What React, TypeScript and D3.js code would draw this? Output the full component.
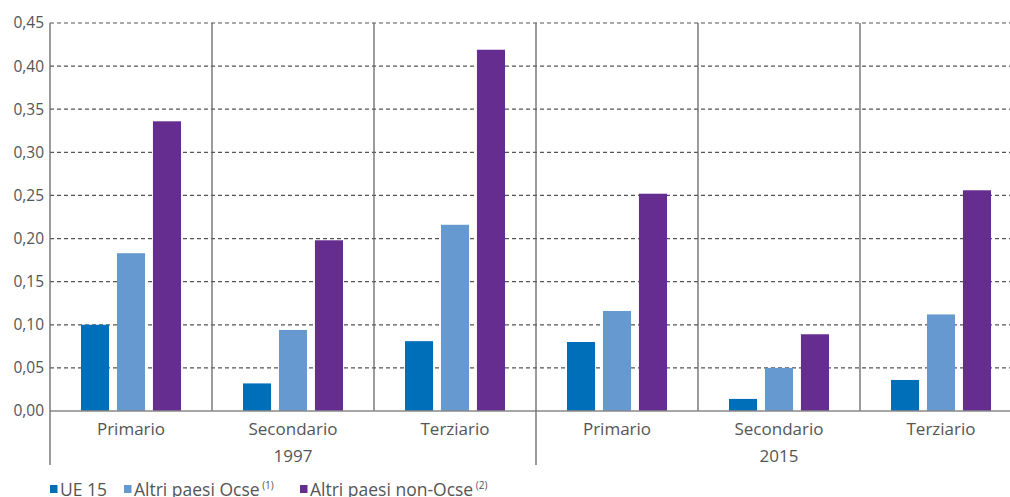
import React from 'react';
import * as d3 from 'd3';

const years = ['1997', '2015'];
const sectors = ['Primario', 'Secondario', 'Terziario'];
const seriesNames = ['UE 15', 'Altri paesi Ocse', 'Altri paesi non-Ocse'];
const seriesNotes = ['', '(1)', '(2)'];
const seriesColors = ['#006fb9', '#6699cf', '#652d90'];

// values per category (year x sector), in the order of seriesNames
const ue15 = [0.100, 0.032, 0.081, 0.080, 0.014, 0.036];
const altriOcse = [0.183, 0.094, 0.216, 0.116, 0.050, 0.112];
const altriNonOcse = [0.336, 0.198, 0.419, 0.252, 0.089, 0.256];

const yTicks = [0, 0.05, 0.1, 0.15, 0.2, 0.25, 0.3, 0.35, 0.4, 0.45];

const W = 1010;
const H = 497;
const left = 50;
const right = 1022; // plot runs past the window edge
const top = 23;
const bottom = 411;
const font = "'Open Sans', 'Noto Sans', sans-serif";
const textColor = '#555';

const App: React.FC = () => {
  const categories = years.flatMap(y => sectors.map(s => `${y}|${s}`));
  const series = [ue15, altriOcse, altriNonOcse];

  const x = d3.scaleBand<string>().domain(categories).range([left, right]).padding(0);
  const step = x.bandwidth();
  const inner = d3.scaleBand<number>()
    .domain([0, 1, 2])
    .range([step / 2 - 50, step / 2 + 50])
    .paddingInner(0.22)
    .paddingOuter(0);
  const y = d3.scaleLinear().domain([0, 0.45]).range([bottom, top]);

  const fmt = d3.formatLocale({ decimal: ',', thousands: '.', grouping: [3], currency: ['€', ''] }).format('.2f');

  const yearX = (yr: string) => x(`${yr}|${sectors[0]}`) as number;

  return (
    <svg width={W} height={H} style={{ position: 'fixed', left: 0, top: 0, background: '#fff' }}>
      {/* grid lines */}
      {yTicks.filter(t => t > 0).map(t => (
        <line key={t} x1={left} x2={right} y1={y(t)} y2={y(t)}
          stroke="#555" strokeWidth={1.2} strokeDasharray="4,3" />
      ))}
      {/* tick labels */}
      {yTicks.map(t => (
        <text key={'l' + t} x={44} y={y(t)} dy="0.35em" textAnchor="end"
          fontFamily={font} fontSize={15.5} fill={textColor}>{fmt(t)}</text>
      ))}
      {/* separators between sectors */}
      {categories.map((c, i) => i % 3 === 0 ? null : (
        <line key={'s' + c} x1={x(c)} x2={x(c)} y1={top} y2={bottom} stroke="#666" strokeWidth={1.3} />
      ))}
      {/* bars */}
      {categories.map((c, ci) => (
        <g key={'g' + c} transform={`translate(${x(c)},0)`}>
          {series.map((vals, si) => (
            <rect key={si} x={inner(si)} width={inner.bandwidth()}
              y={y(vals[ci])} height={y(0) - y(vals[ci])}
              fill={seriesColors[si]} />
          ))}
        </g>
      ))}
      {/* baseline */}
      <line x1={left} x2={right} y1={bottom} y2={bottom} stroke="#888" strokeWidth={1.5} />
      {/* year separators */}
      {years.map(yr => (
        <line key={'ys' + yr} x1={yearX(yr)} x2={yearX(yr)} y1={top} y2={465} stroke="#666" strokeWidth={1.3} />
      ))}
      {/* sector labels */}
      {categories.map(c => (
        <text key={'t' + c} x={(x(c) as number) + step / 2} y={429} dy="0.35em" textAnchor="middle"
          fontFamily={font} fontSize={17} fill={textColor}>{c.split('|')[1]}</text>
      ))}
      {/* year labels */}
      {years.map(yr => (
        <text key={'y' + yr} x={yearX(yr) + step * 1.5} y={456} dy="0.35em" textAnchor="middle"
          fontFamily={font} fontSize={17} fill={textColor}>{yr}</text>
      ))}
      {/* legend */}
      {seriesNames.map((name, i) => {
        const lx = [50, 124, 300][i];
        return (
          <g key={'lg' + i} transform={`translate(${lx},0)`}>
            <rect x={0} y={485} width={7.5} height={8} fill={seriesColors[i]} />
            <text x={10} y={496} fontFamily={font} fontSize={17.5} fill={textColor}>
              {name}
              {seriesNotes[i] && <tspan fontSize={10} dy={-7}>{' ' + seriesNotes[i]}</tspan>}
            </text>
          </g>
        );
      })}
    </svg>
  );
};

export default App;
